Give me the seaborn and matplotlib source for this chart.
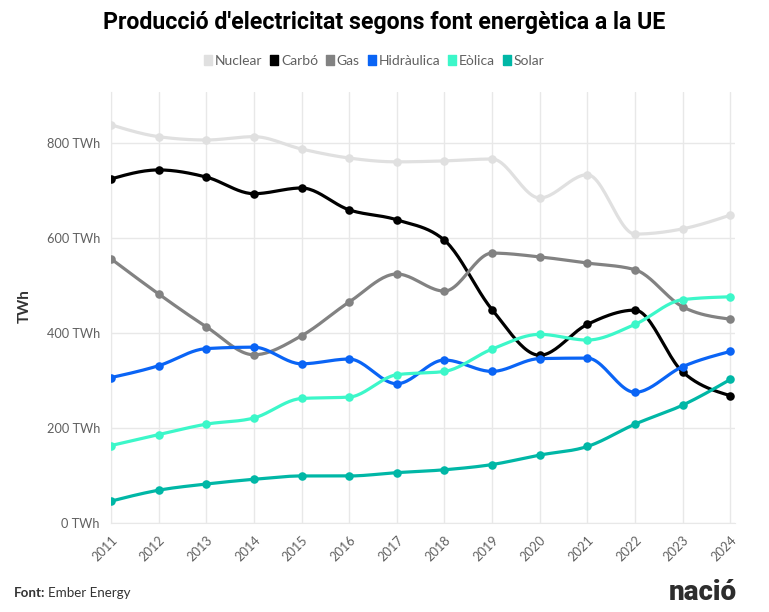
import matplotlib
matplotlib.use('Agg')
import matplotlib.pyplot as plt
from matplotlib.lines import Line2D
import numpy as np
import pandas as pd
import seaborn as sns

years = list(range(2011, 2025))
nuclear = [838, 813, 806, 813, 787, 768, 760, 762, 766, 684, 733, 608, 619, 648]
carbo = [724, 743, 728, 693, 705, 659, 638, 595, 449, 353, 418, 448, 318, 268]
gas = [556, 482, 413, 354, 394, 465, 524, 488, 568, 560, 547, 533, 455, 429]
hidraulica = [306, 331, 367, 370, 335, 345, 293, 343, 319, 346, 347, 275, 329, 361]
eolica = [163, 186, 208, 221, 262, 265, 312, 319, 366, 397, 385, 418, 470, 476]
solar = [46, 69, 82, 92, 99, 99, 106, 112, 123, 143, 161, 208, 248, 302]

series = ['Nuclear', 'Carbó', 'Gas', 'Hidràulica', 'Eòlica', 'Solar']
colors = ['#e0e0e0', '#000000', '#828282', '#0a64f5', '#3cf7c9', '#00b7a6']
gridcolor = '#e8e8e8'
textcolor = '#606060'

df = pd.DataFrame({'any': years, 'Nuclear': nuclear, 'Carbó': carbo, 'Gas': gas,
                   'Hidràulica': hidraulica, 'Eòlica': eolica, 'Solar': solar})
long = df.melt(id_vars='any', var_name='font', value_name='twh')


def monotone(x, y, n=24):
    # monotone cubic (like d3 curveMonotoneX), only for drawing the smooth line
    x = np.asarray(x, float)
    y = np.asarray(y, float)
    h = np.diff(x)
    s = np.diff(y) / h
    m = np.zeros_like(y)
    for i in range(1, len(y) - 1):
        p = (s[i - 1] * h[i] + s[i] * h[i - 1]) / (h[i - 1] + h[i])
        m[i] = (np.sign(s[i - 1]) + np.sign(s[i])) * min(abs(s[i - 1]), abs(s[i]), 0.5 * abs(p))
    m[0] = (3 * s[0] - m[1]) / 2
    m[-1] = (3 * s[-1] - m[-2]) / 2
    xs, ys = [], []
    for i in range(len(h)):
        t = np.linspace(0, 1, n, endpoint=(i == len(h) - 1))
        h00 = 2 * t**3 - 3 * t**2 + 1
        h10 = t**3 - 2 * t**2 + t
        h01 = -2 * t**3 + 3 * t**2
        h11 = t**3 - t**2
        xs.append(x[i] + t * h[i])
        ys.append(h00 * y[i] + h10 * h[i] * m[i] + h01 * y[i + 1] + h11 * h[i] * m[i + 1])
    return np.concatenate(xs), np.concatenate(ys)


sns.set_style('white')
plt.rcParams['font.family'] = ['Lato', 'DejaVu Sans']

fig = plt.figure(figsize=(7.69, 6.12), dpi=100)
ax = fig.add_axes([111 / 769, 1 - 523 / 612, (735 - 111) / 769, (523 - 92) / 612])

for name, c in zip(series, colors):
    sub = long.loc[long.font == name]
    xs, ys = monotone(sub['any'], sub['twh'])
    sns.lineplot(x=xs, y=ys, color=c, linewidth=2.3, sort=False, estimator=None, ax=ax)
    sns.scatterplot(x=sub['any'], y=sub['twh'], color=c, s=38, edgecolor=c, linewidth=0,
                    ax=ax, zorder=3)

ax.set_xlim(2011, 2024.1)
ax.set_ylim(0, 907)
ax.set_yticks([0, 200, 400, 600, 800])
ax.yaxis.set_major_formatter(lambda v, p: f'{int(v)} TWh')
ax.set_xticks(years)
ax.set_xticklabels([str(y) for y in years], rotation=45, ha='right', rotation_mode='anchor')
ax.grid(True, color=gridcolor, linewidth=1)
ax.set_axisbelow(True)
for side in ['top', 'right']:
    ax.spines[side].set_visible(False)
ax.spines['left'].set_color(gridcolor)
ax.spines['bottom'].set_color(gridcolor)
ax.tick_params(axis='y', length=0, pad=8, labelsize=9.2, labelcolor=textcolor)
ax.tick_params(axis='x', length=5, color=gridcolor, pad=3, labelsize=9.2, labelcolor=textcolor)
ax.set_xlabel('')
ax.set_ylabel('TWh', fontweight='bold', color='#333333', fontsize=11)
ax.yaxis.set_label_coords((32 - 111) / 624, (523 - 306) / 431)

fig.text(384 / 769, 1 - 23 / 612, "Producció d'electricitat segons font energètica a la UE",
         fontsize=16.7, fontweight='bold', color='#000000', va='center', ha='center',
         family=['Roboto', 'DejaVu Sans'])

# narrow rounded-looking swatches like the original legend
swatch = [(-0.35, -0.5), (0.35, -0.5), (0.35, 0.5), (-0.35, 0.5), (-0.35, -0.5)]
handles = [Line2D([], [], marker=swatch, linestyle='', markersize=7.5, color=c) for c in colors]
leg = fig.legend(handles, series, loc='center', bbox_to_anchor=(374 / 769, 1 - 61 / 612),
                 ncol=6, frameon=False, handletextpad=0.2, columnspacing=0.55,
                 handlelength=0.6, fontsize=10, borderpad=0)
plt.setp(leg.get_texts(), color=textcolor)

fig.text(14 / 769, 1 - 593 / 612, 'Font:', fontweight='bold', fontsize=9.6, color='#333333',
         va='center', ha='left')
fig.text(48 / 769, 1 - 593 / 612, 'Ember Energy', fontsize=9.6, color='#333333',
         va='center', ha='left')
fig.text(737 / 769, 1 - 592 / 612, 'nació', fontsize=20, fontweight='heavy', color='#2d2d2d',
         va='center', ha='right', family=['Roboto', 'DejaVu Sans'])

fig.savefig('out.png', dpi=100, facecolor='white')
